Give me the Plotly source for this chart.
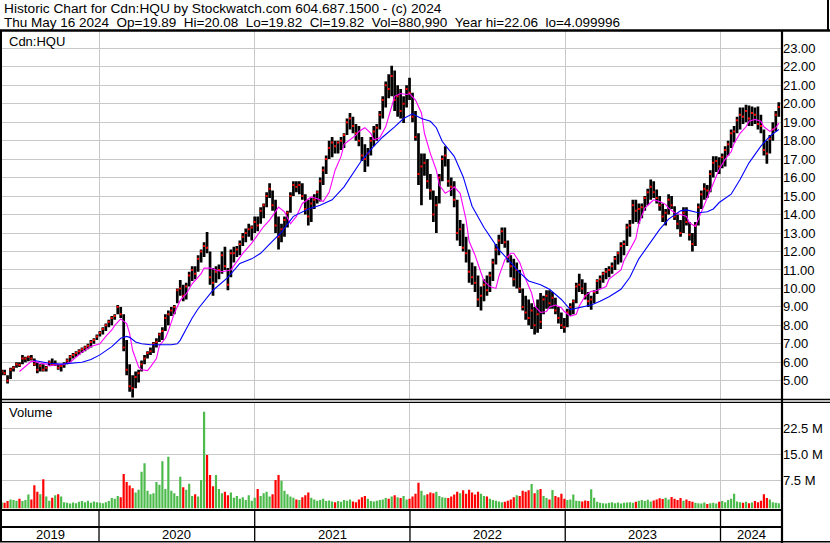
import pandas as pd
import plotly.graph_objects as go

W, H = 830, 543

# ---------------- data (weekly) ----------------
dates = pd.date_range("2019-05-17", periods=262, freq="W-FRI")

high = [
    5.6, 5.6, 5.3, 5.7, 5.8, 6.0, 6.0, 6.4, 6.3, 6.35,
    6.4, 6.2, 6.0, 5.9, 5.9, 5.8, 6.1, 6.2, 6.1, 5.9,
    5.9, 6.0, 6.2, 6.4, 6.5, 6.6, 6.7, 6.8, 6.9, 7.0,
    7.2, 7.3, 7.5, 7.7, 7.9, 8.1, 8.3, 8.5, 8.6, 9.1,
    9.0, 8.6, 7.2, 5.9, 5.3, 5.5, 5.6, 6.1, 6.4, 6.6,
    6.8, 7.1, 7.3, 7.6, 7.9, 8.6, 8.8, 9.0, 9.1, 10.0,
    10.45, 10.2, 10.3, 10.9, 11.2, 11.2, 11.8, 12.1, 12.5, 13.05,
    12.0, 11.1, 11.2, 11.3, 12.0, 12.25, 11.1, 12.1, 12.25, 12.3,
    12.6, 13.0, 13.25, 13.5, 13.4, 13.9, 13.9, 14.4, 14.6, 15.2,
    15.7, 15.3, 14.8, 13.9, 13.5, 13.9, 14.2, 15.2, 15.8, 15.8,
    15.8, 15.7, 15.1, 14.8, 14.9, 15.1, 15.3, 16.0, 16.6, 17.2,
    18.0, 18.2, 18.0, 18.0, 18.2, 18.4, 19.2, 19.5, 19.3, 18.9,
    18.8, 18.2, 17.8, 17.6, 18.2, 18.8, 18.9, 19.6, 20.4, 21.2,
    21.6, 22.06, 21.8, 21.0, 20.8, 20.4, 21.0, 21.4, 20.6, 19.6,
    18.4, 17.3, 17.3, 17.0, 16.2, 15.3, 15.0, 16.2, 17.2, 17.7,
    17.0, 16.0, 15.8, 14.8, 13.7, 13.5, 12.8, 12.1, 11.4, 11.2,
    10.7, 10.1, 10.5, 10.7, 10.9, 11.6, 12.4, 12.9, 13.3, 13.3,
    12.6, 11.8, 11.6, 11.4, 11.0, 10.0, 9.6, 9.4, 9.2, 9.0,
    9.4, 9.75, 9.6, 9.9, 9.9, 9.8, 9.5, 9.0, 8.7, 8.4,
    8.9, 9.2, 9.4, 10.3, 10.8, 10.5, 10.3, 9.8, 9.6, 9.9,
    10.5, 10.7, 10.9, 11.1, 11.2, 11.4, 11.75, 12.0, 12.5, 12.6,
    13.5, 13.7, 14.8, 14.8, 14.6, 14.6, 15.0, 15.4, 15.9, 15.8,
    15.35, 15.0, 14.6, 14.3, 15.1, 15.0, 14.45, 14.0, 13.7, 14.4,
    14.4, 13.6, 13.0, 13.6, 14.6, 15.3, 15.7, 15.6, 16.4, 17.15,
    17.15, 17.1, 17.3, 17.7, 18.0, 18.6, 18.8, 19.3, 19.8, 19.8,
    19.95, 19.9, 19.85, 19.8, 19.85, 19.4, 18.6, 18.0, 18.3, 19.0,
    19.6, 20.08,
]

low = [
    5.3, 5.3, 4.85, 5.1, 5.5, 5.7, 5.75, 5.9, 6.0, 6.05,
    6.1, 5.8, 5.4, 5.5, 5.5, 5.5, 5.8, 5.8, 5.8, 5.6,
    5.5, 5.7, 5.9, 6.0, 6.2, 6.3, 6.4, 6.5, 6.6, 6.7,
    6.8, 7.0, 7.2, 7.4, 7.5, 7.7, 7.9, 8.0, 8.3, 8.6,
    8.4, 6.6, 5.3, 4.4, 4.1, 4.6, 4.9, 5.5, 5.9, 6.2,
    6.4, 6.5, 6.8, 7.1, 7.2, 7.7, 8.0, 8.5, 8.6, 9.2,
    9.6, 9.3, 9.4, 10.1, 10.4, 10.5, 10.9, 11.4, 11.7, 11.9,
    10.2, 9.6, 10.3, 10.5, 10.8, 11.0, 9.9, 10.6, 11.4, 11.7,
    11.8, 12.3, 12.5, 12.8, 12.6, 13.0, 13.1, 13.5, 13.8, 14.4,
    14.9, 14.2, 13.0, 12.1, 12.5, 12.8, 13.3, 14.1, 15.0, 15.2,
    15.1, 14.8, 14.0, 13.4, 13.6, 14.3, 14.6, 14.7, 15.6, 16.2,
    17.0, 17.1, 17.3, 17.3, 17.5, 17.6, 18.3, 18.6, 18.4, 18.0,
    17.7, 16.9, 16.3, 16.6, 17.2, 17.7, 18.0, 18.6, 19.2, 19.8,
    20.3, 20.4, 19.6, 19.3, 19.2, 18.95, 19.8, 20.2, 19.0, 18.0,
    15.6, 14.5, 16.1, 15.4, 14.8, 13.6, 13.0, 14.6, 15.8, 16.6,
    15.5, 15.0, 14.4, 12.6, 12.3, 12.0, 11.4, 10.3, 10.2, 9.8,
    9.0, 8.8, 9.3, 9.6, 9.8, 10.4, 11.3, 11.8, 12.4, 12.2,
    11.4, 10.6, 10.1, 10.0, 9.75, 8.8, 8.3, 8.0, 7.8, 7.5,
    7.6, 7.8, 8.6, 8.9, 8.9, 8.9, 8.6, 8.1, 7.8, 7.6,
    7.9, 8.5, 8.6, 9.2, 9.8, 9.7, 9.4, 9.0, 8.85, 9.2,
    9.7, 10.0, 10.3, 10.5, 10.6, 10.8, 11.0, 11.3, 11.4, 11.8,
    12.3, 12.8, 13.5, 13.6, 13.5, 13.8, 14.2, 14.5, 14.8, 14.9,
    14.6, 14.2, 13.6, 13.4, 14.0, 14.3, 13.7, 13.2, 12.8, 13.0,
    13.4, 12.6, 12.0, 12.3, 13.4, 14.3, 14.8, 14.9, 15.2, 16.0,
    16.3, 16.2, 16.5, 16.6, 17.2, 17.6, 17.9, 18.4, 18.6, 18.9,
    19.0, 18.8, 18.8, 18.9, 18.6, 18.4, 17.2, 16.75, 17.3, 18.0,
    18.5, 19.3,
]

close = [
    5.5, 5.4, 5.0, 5.6, 5.7, 5.9, 5.85, 6.2, 6.2, 6.3,
    6.2, 5.9, 5.6, 5.8, 5.6, 5.7, 6.0, 5.9, 5.9, 5.7,
    5.8, 5.9, 6.1, 6.3, 6.4, 6.5, 6.6, 6.7, 6.8, 6.9,
    7.1, 7.2, 7.4, 7.6, 7.8, 8.0, 8.2, 8.4, 8.5, 9.0,
    8.6, 6.8, 5.6, 4.7, 4.6, 5.2, 5.4, 5.9, 6.2, 6.5,
    6.6, 7.0, 7.1, 7.5, 7.7, 8.4, 8.6, 8.8, 9.0, 9.9,
    10.0, 9.6, 10.1, 10.7, 11.0, 10.8, 11.6, 12.0, 12.3, 12.2,
    10.6, 10.3, 10.9, 11.0, 11.8, 11.2, 10.2, 11.9, 11.9, 12.1,
    12.4, 12.8, 13.0, 13.2, 13.3, 13.6, 13.4, 14.2, 14.5, 15.0,
    15.4, 14.5, 13.4, 12.8, 13.2, 13.7, 14.1, 15.0, 15.6, 15.5,
    15.6, 15.0, 14.3, 13.9, 14.6, 14.8, 15.2, 15.8, 16.4, 17.0,
    17.6, 17.9, 17.7, 17.9, 18.0, 18.3, 19.0, 19.2, 18.8, 18.4,
    18.0, 17.2, 17.0, 17.3, 18.0, 18.5, 18.7, 19.4, 20.2, 21.0,
    20.8, 21.5, 20.2, 20.4, 19.6, 20.0, 20.8, 20.6, 19.3, 18.2,
    16.2, 16.6, 16.8, 15.8, 15.3, 14.0, 14.5, 16.0, 17.0, 17.2,
    15.8, 15.5, 14.8, 13.0, 13.2, 12.2, 11.9, 10.9, 10.6, 10.3,
    9.4, 9.6, 10.2, 9.9, 10.7, 11.4, 12.1, 12.6, 13.1, 12.5,
    11.7, 11.2, 10.5, 11.0, 10.0, 9.0, 8.7, 8.4, 8.8, 8.0,
    8.6, 8.2, 9.4, 9.6, 9.2, 9.5, 8.8, 8.4, 8.0, 7.9,
    8.7, 9.0, 9.3, 10.1, 10.2, 10.0, 9.6, 9.3, 9.4, 9.8,
    10.4, 10.5, 10.8, 10.9, 11.0, 11.2, 11.6, 11.9, 12.3, 12.4,
    13.3, 13.4, 14.5, 14.2, 14.3, 14.4, 14.9, 15.2, 15.5, 15.2,
    14.9, 14.5, 13.9, 14.1, 14.8, 14.5, 13.9, 13.5, 13.0, 14.1,
    13.6, 12.9, 12.4, 13.4, 14.4, 15.1, 15.4, 15.3, 16.2, 16.8,
    16.9, 16.6, 17.1, 17.5, 17.8, 18.4, 18.5, 19.1, 19.4, 19.3,
    19.6, 19.2, 19.5, 19.4, 18.9, 18.8, 17.5, 17.3, 18.1, 18.6,
    19.4, 19.82,
]

# weekly volume, millions of units
volume_m = [
    1.2, 1.0, 1.5, 2.0, 1.8, 1.6, 2.2, 1.5, 1.8, 3.4,
    2.0, 6.1, 4.2, 3.5, 7.8, 2.8, 1.6, 2.5, 3.2, 3.5,
    2.8, 1.2, 1.0, 0.8, 1.1, 0.9, 1.3, 1.5, 1.2, 1.6,
    1.0, 1.4, 1.2, 1.0, 0.9, 1.2, 1.5, 2.4, 2.2, 3.0,
    2.6, 9.3, 7.0, 6.0, 5.2, 4.0, 4.8, 10.0, 12.4, 4.5,
    3.5, 3.8, 7.0, 6.2, 13.0, 5.0, 14.3, 4.5, 3.8, 3.0,
    8.5, 5.5, 4.8, 6.5, 3.0, 3.5, 2.8, 7.6, 27.3, 14.8,
    9.0, 5.8, 9.0, 5.0, 3.8, 4.2, 3.2, 4.0, 2.5, 3.0,
    2.2, 2.6, 1.8, 3.2, 1.6, 2.5, 5.0, 3.0, 3.8, 4.2,
    2.8, 3.5, 7.6, 9.0, 7.4, 4.5, 3.5, 2.8, 2.5, 2.0,
    1.8, 2.6, 3.2, 4.0, 2.5, 2.0, 1.6, 1.8, 2.2, 1.5,
    1.7, 1.4, 1.2, 1.5, 1.3, 1.8, 1.6, 2.0, 1.4, 1.2,
    2.0, 2.6, 3.0, 2.2, 1.5, 1.4, 1.6, 1.8, 2.0, 2.4,
    2.2, 2.8, 3.2, 2.6, 2.4, 3.0, 2.0, 2.2, 2.8, 3.6,
    6.8, 4.5, 3.2, 3.5, 4.0, 3.8, 4.2, 3.0, 2.6, 2.5,
    2.4, 2.8, 3.4, 4.2, 3.8, 4.6, 3.6, 4.8, 4.0, 3.4,
    4.2, 3.6, 3.0, 2.8, 2.2, 1.8, 1.6, 1.4, 1.2, 1.3,
    1.6, 2.0, 2.6, 3.2, 3.0, 4.5, 4.2, 4.6, 6.4, 3.8,
    4.8, 5.0, 3.0, 2.4, 2.0, 4.7, 3.0, 2.6, 3.6, 2.2,
    1.8, 2.0, 3.4, 1.6, 1.5, 1.4, 1.7, 1.5, 4.9, 2.5,
    1.3, 1.0, 0.9, 0.8, 1.0, 1.2, 0.9, 1.1, 0.8, 1.0,
    1.1, 1.2, 1.0, 1.3, 1.6, 1.8, 1.5, 1.9, 1.4, 1.7,
    2.0, 2.3, 2.1, 2.5, 2.0, 2.7, 2.2, 1.8, 2.4, 1.6,
    2.0, 1.5, 1.3, 1.0, 0.9, 0.8, 1.1, 0.7, 0.9, 1.0,
    0.8, 1.3, 1.5, 1.2, 1.8, 2.2, 3.6, 1.4, 1.2, 1.0,
    1.3, 0.9, 1.1, 1.5, 1.2, 1.6, 3.5, 2.4, 2.0, 1.2,
    1.0, 0.9,
]

# short moving average (magenta): week index -> value
ma_fast_weeks = [6, 8, 10, 11, 13, 15, 16, 18, 20, 21, 23, 25, 27, 30, 33, 35, 37, 38, 40, 42,
                 43, 44, 46, 47, 49, 50, 52, 53, 55, 56, 58, 60, 62, 64, 67, 68, 70, 72, 74, 77,
                 79, 81, 84, 86, 88, 90, 93, 95, 97, 99, 101, 104, 106, 108, 110, 112, 114, 115, 117, 119,
                 120, 122, 124, 125, 127, 129, 131, 132, 134, 136, 137, 139, 141, 142, 144, 146, 147, 149, 151, 152,
                 154, 156, 157, 159, 161, 162, 164, 166, 167, 169, 171, 172, 174, 176, 178, 179, 181, 183, 184, 186,
                 188, 189, 191, 193, 194, 196, 198, 199, 201, 203, 204, 206, 208, 209, 211, 213, 214, 216, 218, 219,
                 221, 223, 224, 226, 228, 230, 231, 233, 234, 236, 238, 240, 241, 243, 245, 246, 248, 250, 251, 253,
                 255, 256, 258, 260, 261]
ma_fast_vals = [5.5, 5.75, 6.05, 6.05, 5.95, 5.9, 5.8, 5.85, 5.9, 5.9, 6.0, 6.3, 6.55, 6.85, 7.0, 7.4, 7.75, 8.0, 8.35, 8.1,
                7.55, 6.65, 5.75, 5.6, 5.55, 5.75, 6.2, 6.9, 7.3, 7.7, 8.65, 9.35, 9.7, 10.25, 10.8, 11.1, 11.1, 11.0, 10.9, 11.0,
                11.45, 11.9, 12.45, 12.9, 13.35, 13.7, 14.4, 14.15, 13.5, 13.9, 14.6, 14.95, 14.85, 14.7, 15.2, 16.4, 17.15, 17.8, 18.05, 18.3,
                18.5, 18.7, 18.4, 18.05, 18.15, 18.75, 19.85, 20.4, 20.55, 20.5, 20.55, 20.2, 19.5, 18.4, 17.3, 16.4, 15.6, 15.15, 15.35, 15.5,
                15.15, 13.7, 12.55, 11.8, 10.85, 10.4, 10.1, 10.0, 10.65, 11.55, 11.9, 11.9, 11.4, 10.5, 9.75, 9.05, 8.7, 8.75, 9.0, 9.1,
                8.95, 8.75, 8.5, 8.6, 9.05, 9.6, 9.85, 9.85, 9.95, 10.1, 10.5, 10.75, 11.0, 11.5, 12.1, 12.7, 13.5, 14.35, 14.65, 14.8,
                14.7, 14.55, 14.35, 14.1, 14.0, 13.9, 13.55, 13.35, 13.75, 14.55, 15.35, 16.05, 16.45, 17.0, 17.4, 17.85, 18.4, 18.75, 19.05, 19.15,
                19.05, 18.75, 18.5, 18.7, 18.95]

# long moving average (blue): week index -> value
ma_slow_weeks = [11, 13, 16, 20, 23, 27, 30, 33, 37, 40, 42, 43, 45, 47, 50, 53, 57, 59, 60, 62,
                 64, 66, 68, 71, 76, 80, 84, 87, 90, 94, 98, 103, 107, 111, 115, 118, 121, 125, 128, 132,
                 135, 138, 141, 144, 146, 148, 152, 155, 158, 162, 164, 167, 171, 174, 177, 181, 184, 188, 191, 194,
                 198, 201, 204, 208, 211, 214, 218, 221, 224, 228, 230, 234, 237, 239, 241, 245, 248, 251, 255, 258,
                 261]
ma_slow_vals = [6.1, 6.05, 5.95, 5.9, 5.95, 6.0, 6.15, 6.4, 6.85, 7.3, 7.4, 7.35, 7.1, 7.0, 6.95, 6.95, 6.95, 7.0, 7.2, 7.8,
                8.4, 8.9, 9.3, 9.9, 10.6, 11.35, 11.6, 11.9, 12.4, 13.05, 13.9, 14.3, 14.5, 14.8, 15.5, 16.25, 16.95, 17.7, 18.2, 18.75,
                19.2, 19.45, 19.2, 19.05, 18.7, 17.95, 17.15, 16.05, 14.45, 13.3, 12.8, 12.1, 11.4, 10.85, 10.4, 10.2, 9.95, 9.4, 8.85, 8.95,
                9.1, 9.3, 9.55, 9.95, 10.6, 11.6, 12.55, 13.2, 13.75, 14.2, 14.25, 14.1, 14.15, 14.3, 14.65, 15.1, 15.9, 16.8, 17.7, 18.25,
                18.6]

price_ticks = [5, 6, 7, 8, 9, 10, 11, 12, 13, 14, 15, 16, 17, 18, 19, 20, 21, 22, 23]
volume_ticks = [7.5, 15.0, 22.5]
volume_tick_text = ["7.5 M", "15.0 M", "22.5 M"]
year_bounds = ["2020-01-01", "2021-01-01", "2022-01-01", "2023-01-01", "2024-01-01"]
year_labels = ["2019", "2020", "2021", "2022", "2023", "2024"]

header_1 = "Historic Chart for Cdn:HQU by Stockwatch.com 604.687.1500 - (c) 2024"
header_2 = ("Thu May 16 2024&nbsp;&nbsp;Op=19.89&nbsp;&nbsp;Hi=20.08&nbsp;&nbsp;Lo=19.82&nbsp;&nbsp;Cl=19.82"
            "&nbsp;&nbsp;Vol=880,990&nbsp;&nbsp;Year hi=22.06&nbsp;&nbsp;lo=4.099996")

# ---------------- layout helpers ----------------
FONT = "Liberation Sans, Arial, sans-serif"
GRID = "#c8c8c8"
X_START = pd.Timestamp("2019-05-15 14:00")
X_END = pd.Timestamp("2024-05-24 14:00")


def px(x):
    return x / W


def py(y):
    return 1 - y / H


fig = go.Figure()

# price high-low bars
bx, by = [], []
for d, h, l in zip(dates, high, low):
    bx += [d, d, None]
    by += [l, h, None]
fig.add_trace(go.Scatter(x=bx, y=by, mode="lines", line=dict(color="black", width=2.7),
                         xaxis="x", yaxis="y", hoverinfo="skip", showlegend=False))
# close ticks
fig.add_trace(go.Scatter(x=dates, y=close, mode="markers",
                         marker=dict(color="#ff0000", size=2, symbol="square", line=dict(width=0)),
                         xaxis="x", yaxis="y", hoverinfo="skip", showlegend=False))
# moving averages
fig.add_trace(go.Scatter(x=[dates[i] for i in ma_fast_weeks], y=ma_fast_vals, mode="lines",
                         line=dict(color="#ff00ff", width=1.1), xaxis="x", yaxis="y",
                         hoverinfo="skip", showlegend=False))
fig.add_trace(go.Scatter(x=[dates[i] for i in ma_slow_weeks], y=ma_slow_vals, mode="lines",
                         line=dict(color="#0000ff", width=1.1), xaxis="x", yaxis="y",
                         hoverinfo="skip", showlegend=False))

# volume bars (red = down week, green = up week)
VOL_MIN = -0.63
segs = {"#ff0000": ([], []), "#4cbb4c": ([], [])}
prev = None
for d, v, c in zip(dates, volume_m, close):
    col = "#4cbb4c" if (prev is None or c >= prev) else "#ff0000"
    prev = c
    segs[col][0].extend([d, d, None])
    segs[col][1].extend([VOL_MIN, v, None])
for col, (sx, sy) in segs.items():
    fig.add_trace(go.Scatter(x=sx, y=sy, mode="lines", line=dict(color=col, width=2.2),
                             xaxis="x2", yaxis="y2", hoverinfo="skip", showlegend=False))

axis_common = dict(range=[X_START, X_END], domain=[px(1), px(782)], tickvals=year_bounds,
                   showticklabels=False, showgrid=True, gridcolor=GRID, gridwidth=1,
                   zeroline=False, showline=False, ticks="")

fig.update_layout(
    width=W, height=H,
    margin=dict(l=0, r=0, t=0, b=0),
    paper_bgcolor="white", plot_bgcolor="white",
    font=dict(family=FONT, size=13, color="black"),
    showlegend=False,
    xaxis=dict(anchor="y", **axis_common),
    xaxis2=dict(anchor="y2", matches="x", **axis_common),
    yaxis=dict(domain=[py(399.5), py(31)], range=[3.985, 23.937], side="right", anchor="x",
               tickvals=price_ticks, tickformat=".2f", showgrid=True, gridcolor=GRID, gridwidth=1,
               zeroline=False, showline=False, ticks="", tickfont=dict(size=13, color="black")),
    yaxis2=dict(domain=[py(508.5), py(402.5)], range=[VOL_MIN, 29.94], side="right", anchor="x2",
                tickvals=volume_ticks, ticktext=volume_tick_text, showgrid=True, gridcolor=GRID,
                gridwidth=1, zeroline=False, showline=False, ticks="",
                tickfont=dict(size=13, color="black")),
)

ann = [
    dict(x=px(2), y=py(8.5), text=header_1, font=dict(family=FONT, size=13.7, color="black")),
    dict(x=px(2), y=py(22.5), text=header_2, font=dict(family=FONT, size=13.5, color="black")),
    dict(x=px(7), y=py(41.5), text="Cdn:HQU", font=dict(family=FONT, size=13, color="black")),
    dict(x=px(7), y=py(413), text="Volume", font=dict(family=FONT, size=13, color="black")),
]
annotations = [dict(xref="paper", yref="paper", xanchor="left", yanchor="middle", showarrow=False, **a)
               for a in ann]

# year labels centred in their visible spans
edges = [X_START] + [pd.Timestamp(b) for b in year_bounds] + [X_END]
for lab, a, b in zip(year_labels, edges[:-1], edges[1:]):
    annotations.append(dict(x=a + (b - a) / 2, y=py(534), xref="x", yref="paper", text=lab,
                            showarrow=False, xanchor="center", yanchor="middle",
                            font=dict(family=FONT, size=13, color="black")))
fig.update_layout(annotations=annotations)


def hline(y, x0, x1, w):
    return dict(type="line", xref="paper", yref="paper", x0=px(x0), x1=px(x1), y0=py(y), y1=py(y),
                line=dict(color="black", width=w))


def vline(x, y0, y1, w):
    return dict(type="line", xref="paper", yref="paper", x0=px(x), x1=px(x), y0=py(y0), y1=py(y1),
                line=dict(color="black", width=w))


shapes = [
    hline(30.5, 0, 830, 2.5),     # header bottom
    vline(828, 0, 31, 2),         # header right
    vline(782, 30, 543, 2.2),     # axis column divider
    vline(1, 30, 542, 2),         # left frame
    hline(399.5, 0, 830, 1.3),    # double divider
    hline(402.3, 0, 830, 1.3),
    hline(510, 0, 782, 2),
    hline(527, 0, 782, 2),
    hline(541.8, 0, 830, 1.5),
]
for b in year_bounds:
    shapes.append(dict(type="line", xref="x", yref="paper", x0=b, x1=b, y0=py(542), y1=py(510),
                       line=dict(color="black", width=1.3)))
fig.update_layout(shapes=shapes)

fig.write_html("out.html", config={"displayModeBar": False},
               post_script="document.body.style.margin='0';document.body.style.padding='0';")
